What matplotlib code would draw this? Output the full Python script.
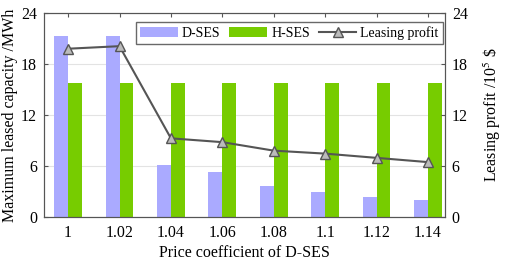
import matplotlib
matplotlib.use("Agg")
import matplotlib.pyplot as plt
import numpy as np

plt.rcParams['font.family'] = ['Liberation Serif', 'DejaVu Serif']
plt.rcParams['mathtext.fontset'] = 'stix'

categories = ['1', '1.02', '1.04', '1.06', '1.08', '1.1', '1.12', '1.14']
d_ses = [21.3, 21.3, 6.1, 5.3, 3.6, 2.9, 2.3, 2.0]
h_ses = [15.8, 15.8, 15.8, 15.8, 15.8, 15.8, 15.8, 15.8]
profit = [19.8, 20.1, 9.25, 8.8, 7.8, 7.45, 6.95, 6.45]
yticks = [0, 6, 12, 18, 24]

fig = plt.figure(figsize=(5.05, 2.61), dpi=100)
ax = fig.add_axes([0.087, 0.169, 0.794, 0.781])
x = np.arange(len(categories))
w = 0.27
ax.bar(x - w/2, d_ses, w, color='#aaaaff', label='D-SES', zorder=2)
ax.bar(x + w/2, h_ses, w, color='#77cc00', label='H-SES', zorder=2)
ax.set_xlim(-0.47, 7.33)
ax.set_ylim(0, 24)
ax.set_yticks(yticks)
ax.set_xticks(x)
ax.set_xticklabels(categories)
ax.yaxis.grid(True, color='#e3e3e3', lw=0.8, zorder=0)
ax.set_axisbelow(True)
ax.tick_params(direction='in', labelsize=11.5, top=True, length=3, color='#555555')
ax.tick_params(axis='x', pad=6)
ax.tick_params(axis='y', right=False, pad=5)
for s in ax.spines.values():
    s.set_color('#555555')
ax.set_xlabel('Price coefficient of D-SES', fontsize=11.5, labelpad=3)
ax.set_ylabel('Maximum leased capacity /MWh', fontsize=11.5, labelpad=2)

ax2 = ax.twinx()
ax2.plot(x, profit, color='#555555', lw=1.5, marker='^', markersize=6.5,
         markerfacecolor='#bbbbbb', markeredgecolor='#555555', label='Leasing profit', zorder=3)
ax2.set_ylim(0, 24)
ax2.set_yticks(yticks)
ax2.tick_params(direction='in', labelsize=11.5, length=3, color='#555555', pad=5)
ax2.set_ylabel('Leasing profit /10$^5$ \\$', fontsize=11.5, labelpad=10)
for s in ax2.spines.values():
    s.set_color('#555555')

h1, l1 = ax.get_legend_handles_labels()
h2, l2 = ax2.get_legend_handles_labels()
leg = ax2.legend(h1 + h2, l1 + l2, loc='upper right', ncol=3, fontsize=10,
                 frameon=True, fancybox=False, edgecolor='#444444',
                 bbox_to_anchor=(0.995, 0.955), handlelength=2.7, columnspacing=0.65,
                 handletextpad=0.3, borderpad=0.3, borderaxespad=0)
leg.get_frame().set_linewidth(1.0)

fig.savefig('out.png', dpi=100)
